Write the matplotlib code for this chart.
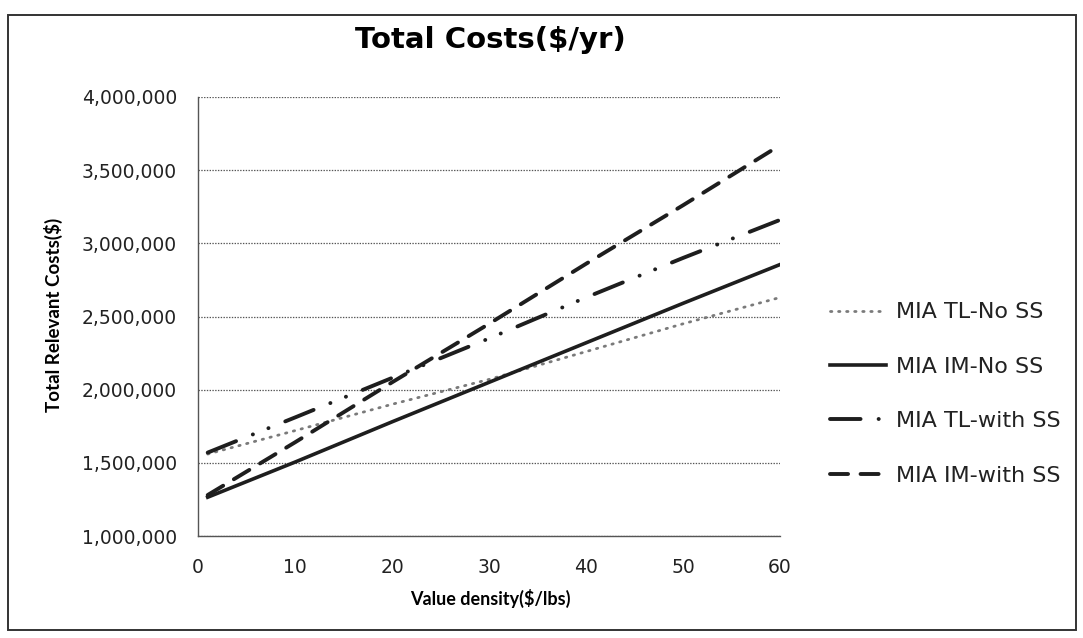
import matplotlib
matplotlib.use("Agg")
import matplotlib.pyplot as plt
from matplotlib.patches import Rectangle
from matplotlib.ticker import FuncFormatter, MultipleLocator

plt.rcParams['lines.scale_dashes'] = False
plt.rcParams['font.family'] = ['DejaVu Sans']

# ---- data ----
x_values = [1, 10, 20, 30, 40, 50, 60]
tl_no_ss = [1560000, 1720000, 1900000, 2070000, 2260000, 2450000, 2630000]
im_no_ss = [1265000, 1505000, 1780000, 2050000, 2320000, 2590000, 2855000]
tl_with_ss = [1570000, 1810000, 2080000, 2350000, 2630000, 2900000, 3160000]
im_with_ss = [1280000, 1640000, 2050000, 2450000, 2860000, 3260000, 3670000]
series_labels = ["MIA TL-No SS", "MIA IM-No SS", "MIA TL-with SS", "MIA IM-with SS"]
title_text = "Total Costs($/yr)"
x_label = "Value density($/lbs)"
y_label = "Total Relevant Costs($)"

W, H = 1083, 638
fig = plt.figure(figsize=(W / 100, H / 100), dpi=100)
ax = fig.add_axes([198 / W, 1 - 536 / H, (780 - 198) / W, (536 - 97) / H])

ink = '#1e1e1e'
l1, = ax.plot(x_values, tl_no_ss, color='#7a7a7a', lw=2.0, linestyle=(0, (1.0, 4.8)),
              dash_capstyle='round', label=series_labels[0])
l2, = ax.plot(x_values, im_no_ss, color=ink, lw=2.6, linestyle='-', label=series_labels[1])
l3, = ax.plot(x_values, tl_with_ss, color=ink, lw=2.8,
              linestyle=(0, (22, 13, 0.1, 12, 0.1, 13)), dash_capstyle='round',
              label=series_labels[2])
l4, = ax.plot(x_values, im_with_ss, color=ink, lw=2.8, linestyle=(0, (13, 9)),
              dash_capstyle='round', label=series_labels[3])

ax.set_xlim(0, 60)
ax.set_ylim(1000000, 4000000)
ax.xaxis.set_major_locator(MultipleLocator(10))
ax.yaxis.set_major_locator(MultipleLocator(500000))
ax.yaxis.set_major_formatter(FuncFormatter(lambda v, p: f"{int(v):,}"))
ax.grid(axis='y', color='#555555', linestyle=(0, (1, 1)), lw=0.9)
ax.set_axisbelow(True)
for s in ['top', 'right']:
    ax.spines[s].set_visible(False)
for s in ['left', 'bottom']:
    ax.spines[s].set_color('#555555')
    ax.spines[s].set_linestyle((0, (1, 1)))
    ax.spines[s].set_linewidth(1.0)
ax.tick_params(axis='both', length=0, labelsize=13.5, colors='#222222')
ax.tick_params(axis='y', pad=15)
ax.tick_params(axis='x', pad=16)

ax.set_xlabel(x_label, fontsize=13, fontweight='bold', family='Lato')
ax.xaxis.set_label_coords(0.502, -0.12)
ax.set_ylabel(y_label, fontsize=13.5, fontweight='bold', family='Lato')
ax.yaxis.set_label_coords(-0.232, 0.503)

fig.text(490 / W, 1 - 40 / H, title_text, ha='center', va='center',
         fontsize=21, fontweight='bold')

leg = fig.legend(handles=[l1, l2, l3, l4], loc='center left',
                 bbox_to_anchor=(830 / W, 1 - 394 / H), frameon=False,
                 fontsize=16, handlelength=2.5, handletextpad=0.45,
                 labelspacing=1.55, borderpad=0, borderaxespad=0)
for t in leg.get_texts():
    t.set_color('#222222')

fig.patches.append(Rectangle((8 / W, 1 - 630 / H), (1076 - 8) / W, (630 - 15) / H,
                             transform=fig.transFigure, fill=False,
                             edgecolor='#333333', lw=1.4))

fig.savefig("out.png", dpi=100)
